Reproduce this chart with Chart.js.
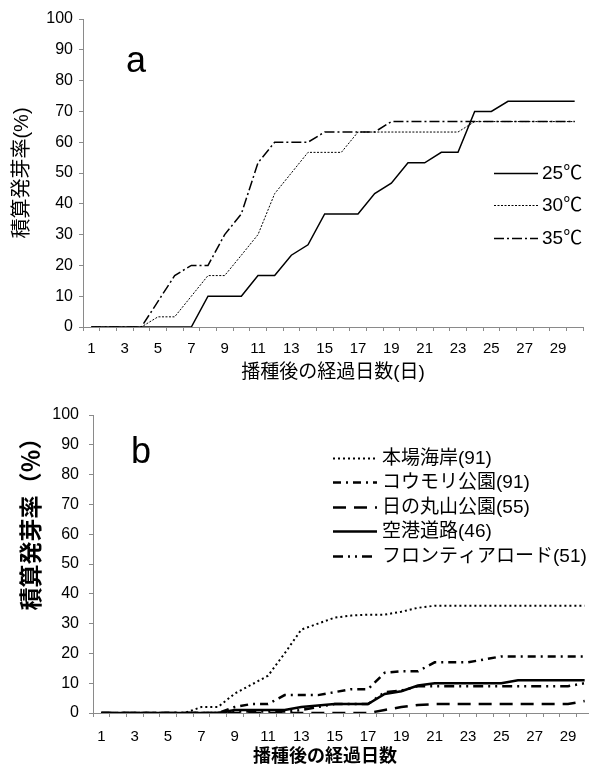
<!DOCTYPE html>
<html>
<head>
<meta charset="utf-8">
<script src="https://cdn.jsdelivr.net/npm/chart.js@4.4.1/dist/chart.umd.min.js"></script>
<style>
  html, body { margin: 0; padding: 0; background: #fff; overflow: hidden; }
  canvas { position: absolute; left: 0; }
  #chartA { top: 0; }
  #chartB { top: 390px; }
</style>
</head>
<body>
<canvas id="chartA" width="589" height="390"></canvas>
<canvas id="chartB" width="600" height="382"></canvas>
<script>
// days after sowing
const days = [1,2,3,4,5,6,7,8,9,10,11,12,13,14,15,16,17,18,19,20,21,22,23,24,25,26,27,28,29,30];
const yTicks = [0,10,20,30,40,50,60,70,80,90,100];

// (a) cumulative germination by temperature
const tempLabels = ['25℃', '30℃', '35℃'];
const t25 = [0,0,0,0,0,0,0,10,10,10,16.7,16.7,23.3,26.7,36.7,36.7,36.7,43.3,46.7,53.3,53.3,56.7,56.7,70,70,73.3,73.3,73.3,73.3,73.3];
const t30 = [0,0,0,0,3.3,3.3,10,16.7,16.7,23.3,30,43.3,50,56.7,56.7,56.7,63.3,63.3,63.3,63.3,63.3,63.3,63.3,66.7,66.7,66.7,66.7,66.7,66.7,66.7];
const t35 = [0,0,0,0,8.3,16.7,20,20,30,36.7,53.3,60,60,60,63.3,63.3,63.3,63.3,66.7,66.7,66.7,66.7,66.7,66.7,66.7,66.7,66.7,66.7,66.7,66.7];

// (b) cumulative germination by site
const siteLabels = ['本場海岸(91)', 'コウモリ公園(91)', '日の丸山公園(55)', '空港道路(46)', 'フロンティアロード(51)'];
const honba    = [0,0,0,0,0,0,2,2,6.5,9.5,12.5,20,28,30,32,32.7,33,33,34,35.3,36,36,36,36,36,36,36,36,36,36];
const koumori  = [0,0,0,0,0,0,0,0,2,3,3,6,6,6,7,8,8,13.5,14,14,17,17,17,18,19,19,19,19,19,19];
const hinomaru = [0,0,0,0,0,0,0,0,0,0,0,0,0,0,0,0,0,1,2,2.7,3,3,3,3,3,3,3,3,3,4];
const kuukou   = [0,0,0,0,0,0,0,0,1,1,1,1,2,2.5,3,3,3,6.4,7.3,9.2,10,10,10,10,10,11,11,11,11,11];
const frontier = [0,0,0,0,0,0,0,0,0.5,0.5,0.5,0.5,1,2,3,3,3,7,7.5,9,9,9,9,9,9,9,9,9,9,10];

Chart.defaults.font.family = "'Liberation Sans', 'Noto Sans CJK JP', sans-serif";
Chart.defaults.color = '#000';

const axisGray = '#8a8a8a';

// legend and panel letter drawn inside the plot
const inLegend = {
  id: 'inLegend',
  afterDatasetsDraw(chart, args, opts) {
    const ctx = chart.ctx;
    ctx.save();
    ctx.fillStyle = '#000';
    ctx.font = opts.font;
    ctx.textBaseline = 'middle';
    chart.data.datasets.forEach((ds, i) => {
      const y = Math.round(opts.y + i * opts.step) + 0.5;
      ctx.beginPath();
      ctx.setLineDash(ds.borderDash || []);
      ctx.lineWidth = ds.borderWidth;
      ctx.strokeStyle = ds.borderColor;
      ctx.moveTo(opts.x1, y);
      ctx.lineTo(opts.x2, y);
      ctx.stroke();
      ctx.fillText(ds.label, opts.tx, y);
    });
    ctx.setLineDash([]);
    ctx.font = opts.letterFont;
    ctx.textBaseline = 'alphabetic';
    ctx.fillText(opts.letter, opts.lx, opts.ly);
    ctx.restore();
  }
};

function oddOnly(value) {
  const d = this.getLabelForValue(value);
  return d % 2 === 1 ? d : '';
}

function makeScales(o) {
  return {
    x: {
      type: 'category',
      offset: true,
      afterFit: s => { s.height = o.xHeight; },
      grid: { drawOnChartArea: false, offset: true, tickLength: 4, color: axisGray },
      border: { color: axisGray },
      ticks: { autoSkip: false, maxRotation: 0, padding: o.xPad, font: { size: 15 }, callback: oddOnly },
      title: { display: true, text: o.xTitle, font: o.xTitleFont, padding: { top: 0, bottom: o.xTitlePad } }
    },
    y: {
      min: 0, max: 100,
      afterFit: s => { s.width = o.yWidth; },
      afterBuildTicks: s => { s.ticks = yTicks.map(v => ({ value: v })); },
      grid: { drawOnChartArea: false, tickLength: 4, color: axisGray },
      border: { color: axisGray },
      ticks: { padding: o.yPad, font: { size: 16 } },
      title: { display: true, text: o.yTitle, align: o.yTitleAlign || 'center', font: o.yTitleFont,
               padding: { top: o.yTitlePad, bottom: 0 } }
    }
  };
}

function line(label, data, width, dash) {
  return { label, data, borderColor: '#000', borderWidth: width, borderDash: dash,
           pointRadius: 0, tension: 0, fill: false };
}

new Chart(document.getElementById('chartA'), {
  type: 'line',
  data: {
    labels: days,
    datasets: [
      line(tempLabels[0], t25, 1.5, []),
      line(tempLabels[1], t30, 1, [2, 1.5]),
      line(tempLabels[2], t35, 1.5, [10, 3, 2, 3])
    ]
  },
  options: {
    responsive: false,
    animation: false,
    layout: { padding: { top: 19, right: 6, left: 0, bottom: 0 } },
    plugins: {
      legend: { display: false },
      tooltip: { enabled: false },
      inLegend: { font: "19px 'Liberation Sans', 'Noto Sans CJK JP', sans-serif",
                  x1: 494, x2: 538, tx: 542, y: 173, step: 32.3,
                  letter: 'a', letterFont: "36px 'Liberation Sans', sans-serif", lx: 126, ly: 72 }
    },
    scales: makeScales({
      xHeight: 63, xPad: 9, xTitle: '播種後の経過日数(日)',
      xTitleFont: { size: 19 }, xTitlePad: 6,
      yWidth: 83, yPad: 6, yTitle: '積算発芽率(%)', yTitleFont: { size: 20 }, yTitlePad: 10
    })
  },
  plugins: [inLegend]
});

new Chart(document.getElementById('chartB'), {
  type: 'line',
  data: {
    labels: days,
    datasets: [
      line(siteLabels[0], honba, 2, [2, 3]),
      line(siteLabels[1], koumori, 2.5, [8, 5, 2, 5]),
      line(siteLabels[2], hinomaru, 2.5, [13, 8]),
      line(siteLabels[3], kuukou, 2.5, []),
      line(siteLabels[4], frontier, 2.5, [10, 5, 2, 5, 2, 5])
    ]
  },
  options: {
    responsive: false,
    animation: false,
    layout: { padding: { top: 25, right: 7, left: 0, bottom: 0 } },
    plugins: {
      legend: { display: false },
      tooltip: { enabled: false },
      inLegend: { font: "19px 'Liberation Sans', 'Noto Sans CJK JP', sans-serif",
                  x1: 333, x2: 377, tx: 382, y: 68, step: 24.4,
                  letter: 'b', letterFont: "36px 'Liberation Sans', sans-serif", lx: 131, ly: 73 }
    },
    scales: makeScales({
      xHeight: 59, xPad: 11, xTitle: '播種後の経過日数\u3000\u3000',
      xTitleFont: { size: 18, weight: 'bold' }, xTitlePad: 4,
      yWidth: 93, yPad: 10, yTitle: '積算発芽率（％）\u3000', yTitleAlign: 'end',
      yTitleFont: { size: 23, weight: 'bold' }, yTitlePad: 19
    })
  },
  plugins: [inLegend]
});
</script>
</body>
</html>
